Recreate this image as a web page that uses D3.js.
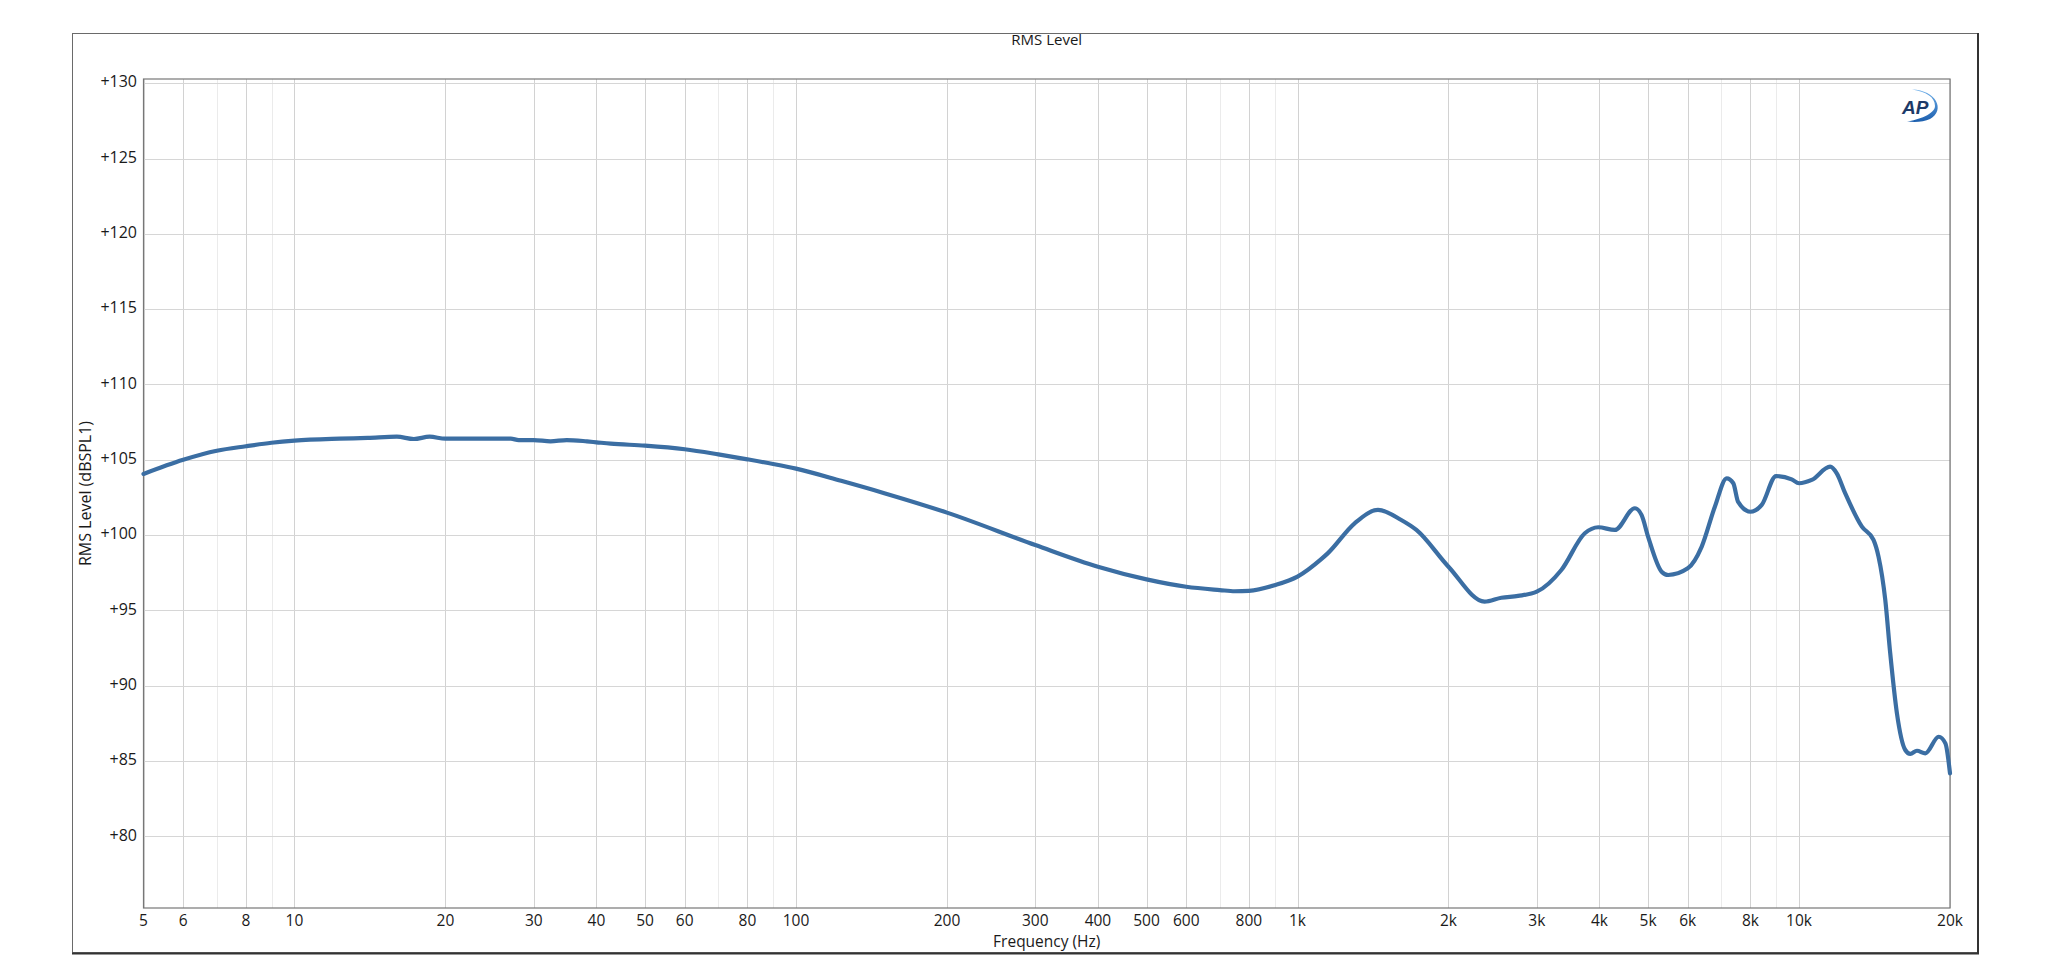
<!DOCTYPE html>
<html><head><meta charset="utf-8">
<script src="https://cdn.jsdelivr.net/npm/d3@7/dist/d3.min.js"></script>
<style>
html,body{margin:0;padding:0;background:#fff;}
svg{display:block;}
text{font-family:"Open Sans","Noto Sans",sans-serif;fill:#1a1a1a;}
</style></head>
<body>
<svg id="chart" width="2048" height="977"></svg>
<script>
// ---- Data ----
const freqHz = [5,6,7,8,9,10,12.3,14,16,17.3,18.6,20,27,28,30,32.4,34.9,38.3,40,42.7,50,60,70,80,90,100,123,150,200,300,400,500,600,700,750,800,900,1000,1115,1150,1300,1447,1610,1726,2000,2360,2550,2753,3000,3358,3740,3978,4293,4705,4852,5000,5321,5484,6000,6394,6795,7175,7395,7561,8000,8426,9000,9668,10000,10600,11534,11892,12358,13346,14076,14404,14857,15200,15674,16287,16667,17187,17857,18990,19582,20000];
const levelDb = [104.06,105.0,105.6,105.9,106.13,106.27,106.4,106.45,106.53,106.38,106.53,106.4,106.4,106.31,106.31,106.22,106.31,106.22,106.16,106.07,105.94,105.7,105.36,105.03,104.72,104.41,103.6,102.78,101.49,99.34,97.9,97.06,96.57,96.35,96.27,96.3,96.67,97.24,98.4,98.8,100.78,101.67,101.0,100.34,97.9,95.58,95.84,95.96,96.24,97.68,100.12,100.52,100.34,101.78,101.34,99.9,97.57,97.35,97.79,99.22,101.88,103.77,103.44,102.2,101.55,102.0,103.92,103.7,103.44,103.66,104.54,104.1,102.78,100.56,99.68,98.57,95.7,92.15,88.17,85.73,85.47,85.68,85.51,86.61,86.17,84.18];
const xTickValues = [5,6,8,10,20,30,40,50,60,80,100,200,300,400,500,600,800,1000,2000,3000,4000,5000,6000,8000,10000,20000];
const xTickLabels = ["5","6","8","10","20","30","40","50","60","80","100","200","300","400","500","600","800","1k","2k","3k","4k","5k","6k","8k","10k","20k"];
const xMinorValues = [7,9,70,90,700,900,7000,9000];
const yTickValues = [80,85,90,95,100,105,110,115,120,125,130];
const yTickLabels = ["+80","+85","+90","+95","+100","+105","+110","+115","+120","+125","+130"];
const chartTitle = "RMS Level";
const xTitle = "Frequency (Hz)";
const yTitle = "RMS Level (dBSPL1)";

// ---- Layout ----
const svg = d3.select("#chart");
const P = {left:143.5, right:1950, top:79, bottom:908};
const x = d3.scaleLog().domain([5,20000]).range([P.left,P.right]);
const y = d3.scaleLinear().domain([75.24,130.28]).range([P.bottom,P.top]);

// outer frame
svg.append("rect").attr("x",72.5).attr("y",33.5).attr("width",1905).attr("height",919)
  .attr("fill","none").attr("stroke","#6a6a6a").attr("stroke-width",1);
svg.append("line").attr("x1",72).attr("x2",1979).attr("y1",953.5).attr("y2",953.5).attr("stroke","#333").attr("stroke-width",2);
svg.append("line").attr("x1",1978).attr("x2",1978).attr("y1",33).attr("y2",954).attr("stroke","#333").attr("stroke-width",2);

// title
svg.append("text").attr("x",(P.left+P.right)/2).attr("y",41).attr("text-anchor","middle")
  .attr("dominant-baseline","middle").style("font-size","15px").text(chartTitle);

const g = svg.append("g");
// minor vertical grid
g.selectAll(".vminor").data(xMinorValues).enter().append("line")
  .attr("x1",d=>Math.round(x(d))+0.5).attr("x2",d=>Math.round(x(d))+0.5)
  .attr("y1",P.top).attr("y2",P.bottom).attr("stroke","#ebebeb").attr("stroke-width",1);
// major vertical grid
g.selectAll(".vmajor").data(xTickValues).enter().append("line")
  .attr("x1",d=>Math.round(x(d))+0.5).attr("x2",d=>Math.round(x(d))+0.5)
  .attr("y1",P.top).attr("y2",P.bottom).attr("stroke","#d2d2d2").attr("stroke-width",1);
// horizontal grid
g.selectAll(".hgrid").data(yTickValues).enter().append("line")
  .attr("x1",P.left).attr("x2",P.right)
  .attr("y1",d=>Math.round(y(d))+0.5).attr("y2",d=>Math.round(y(d))+0.5)
  .attr("stroke","#d6d6d6").attr("stroke-width",1);

// plot border
svg.append("rect").attr("x",P.left).attr("y",P.top).attr("width",P.right-P.left).attr("height",P.bottom-P.top)
  .attr("fill","none").attr("stroke","#777").attr("stroke-width",1.2);

// x tick labels
svg.selectAll(".xl").data(xTickValues).enter().append("text")
  .attr("x",d=>x(d)).attr("y",921.5).attr("text-anchor","middle").attr("dominant-baseline","middle")
  .style("font-size","15.5px").text((d,i)=>xTickLabels[i]);
// y tick labels
svg.selectAll(".yl").data(yTickValues).enter().append("text")
  .attr("x",137).attr("y",d=>y(d)).attr("text-anchor","end").attr("dominant-baseline","middle")
  .style("font-size","16px").text((d,i)=>yTickLabels[i]);

// axis titles
svg.append("text").attr("x",(P.left+P.right)/2).attr("y",942.5).attr("text-anchor","middle")
  .attr("dominant-baseline","middle").style("font-size","15.5px").text(xTitle);
svg.append("text").attr("transform",`translate(87,${(P.top+P.bottom)/2}) rotate(-90)`)
  .attr("text-anchor","middle").attr("dominant-baseline","middle").style("font-size","16px").text(yTitle);

// curve
const data = freqHz.map((f,i)=>({f, v:levelDb[i]}));
const line = d3.line().x(d=>x(d.f)).y(d=>y(d.v)).curve(d3.curveMonotoneX);
svg.append("path").datum(data).attr("d",line).attr("fill","none")
  .attr("stroke","#3b6ea3").attr("stroke-width",4.2).attr("stroke-linejoin","round").attr("stroke-linecap","round");

// AP logo
const defs = svg.append("defs");
const grad = defs.append("linearGradient").attr("id","apg").attr("x1","0").attr("y1","0").attr("x2","0").attr("y2","1");
grad.append("stop").attr("offset","0").attr("stop-color","#6fb0ea");
grad.append("stop").attr("offset","1").attr("stop-color","#1c5fae");
svg.append("path")
  .attr("d","M1912,89.5 C1936,90 1946,110 1930,119 C1924,122 1915,122.5 1907,121.5 C1918,120 1935,114 1935,106 C1935,97 1926,91.5 1912,89.5 Z")
  .attr("fill","url(#apg)");
svg.append("text").attr("x",1902).attr("y",113.5)
  .style("font-family","'Liberation Sans',Arial,sans-serif").style("font-weight","bold").style("font-style","italic")
  .style("font-size","19px").style("fill","#1d3a68").text("AP");
</script>
</body></html>
